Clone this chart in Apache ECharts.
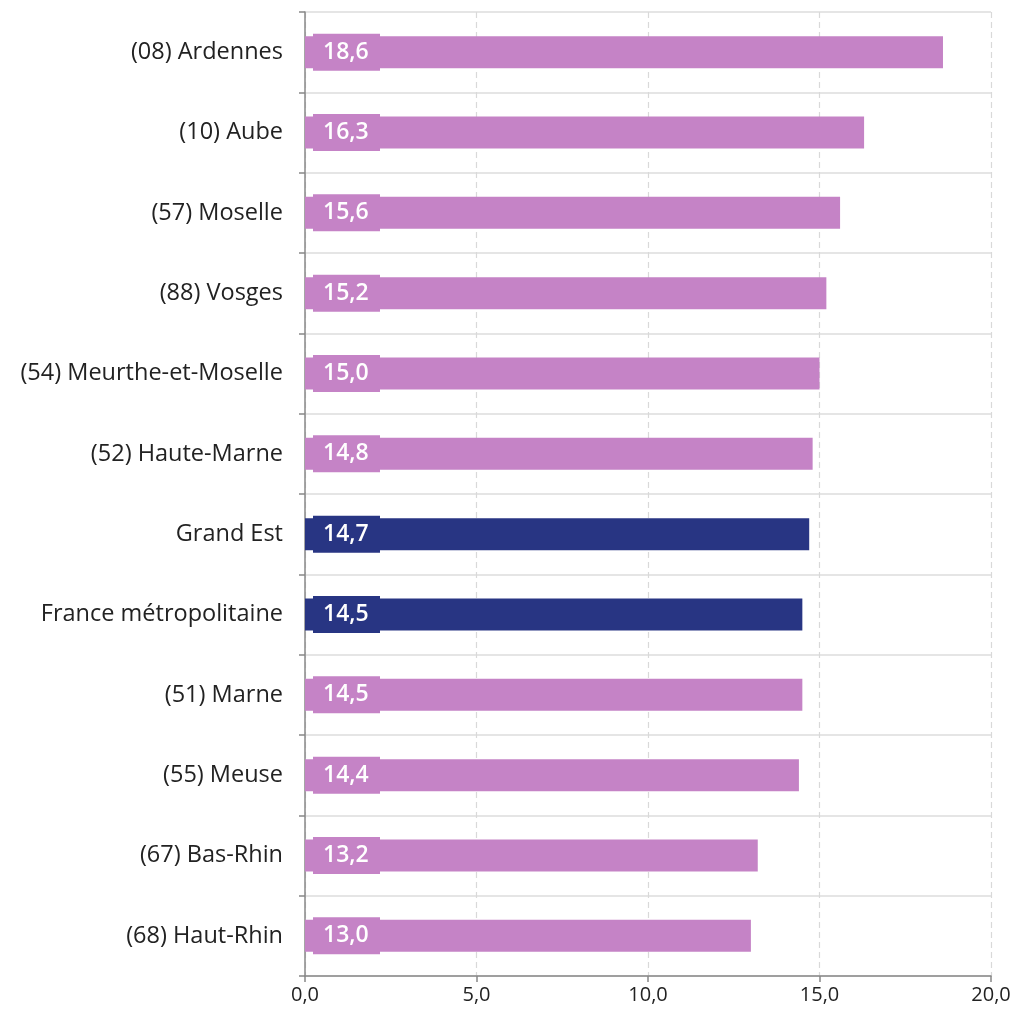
<!DOCTYPE html>
<html><head><meta charset="utf-8">
<script src="https://cdn.jsdelivr.net/npm/echarts@6/dist/echarts.min.js"></script>
<style>html,body{margin:0;padding:0;background:#fff}#c{width:1015px;height:1014px}</style>
</head><body><div id="c"></div>
<script>
const categories = ["(08) Ardennes","(10) Aube","(57) Moselle","(88) Vosges","(54) Meurthe-et-Moselle","(52) Haute-Marne","Grand Est","France métropolitaine","(51) Marne","(55) Meuse","(67) Bas-Rhin","(68) Haut-Rhin"];
const values = [18.6,16.3,15.6,15.2,15.0,14.8,14.7,14.5,14.5,14.4,13.2,13.0];
const highlighted = ["Grand Est","France métropolitaine"];
const xTicks = [0,5,10,15,20];
const PINK = "#C583C6", NAVY = "#283583";
const fmt = v => v.toFixed(1).replace('.', ',');
const chart = echarts.init(document.getElementById('c'));
chart.setOption({
  animation:false,
  grid:{left:305,right:24,top:12,bottom:38,containLabel:false},
  xAxis:{type:'value',min:0,max:20,interval:5,
    axisLine:{show:true,lineStyle:{color:'#888',width:1.5}},
    axisTick:{show:true,length:6,lineStyle:{color:'#888',width:1.5}},
    axisLabel:{formatter:fmt,color:'#222',fontSize:20,fontFamily:'Open Sans',margin:9},
    splitLine:{show:true,lineStyle:{color:'#d9d9d9',type:[6,4],width:1.2}}},
  yAxis:{type:'category',data:categories,inverse:true,
    axisLine:{show:true,lineStyle:{color:'#888',width:1.5}},
    axisTick:{show:true,length:6,lineStyle:{color:'#888',width:1.5}},
    axisLabel:{color:'#222',fontSize:23.5,fontFamily:'Open Sans',margin:22},
    splitLine:{show:true,lineStyle:{color:'#dcdcdc',width:1.5}}},
  series:[{type:'bar',barWidth:32,
    data:values.map((v,i)=>({value:v,itemStyle:{color:highlighted.includes(categories[i])?NAVY:PINK},
      label:{backgroundColor:highlighted.includes(categories[i])?NAVY:PINK}})),
    label:{show:true,position:'insideLeft',distance:8,formatter:p=>fmt(p.value),
      color:'#fff',fontSize:23,fontWeight:600,fontFamily:'Open Sans',lineHeight:24,
      padding:[7,10,6,10],width:47,align:'left'}}]
});
</script></body></html>
